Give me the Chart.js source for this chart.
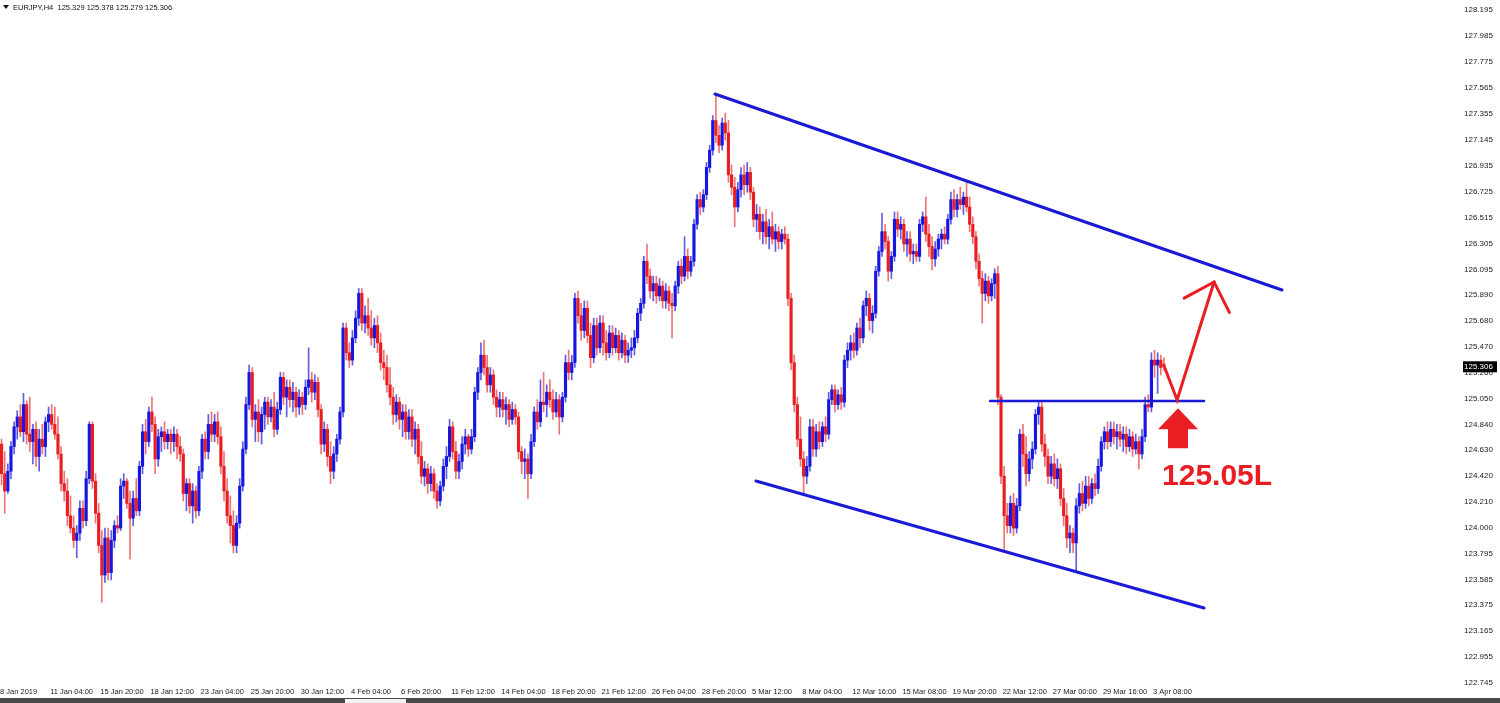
<!DOCTYPE html>
<html lang="en">
<head>
<meta charset="UTF-8">
<title>EURJPY,H4</title>
<script src="https://cdn.jsdelivr.net/npm/chart.js@4"></script>
<style>
  html, body { margin: 0; padding: 0; background: #fff; }
  #grafico { display: block; }
</style>
</head>
<body>
<canvas id="grafico" width="1500" height="703"></canvas>
<script>
// candles EURJPY H4 (bar 0 = 8 Jan 12:00)
const opens = [
  124.68,124.44,124.30,124.46,124.66,124.82,124.90,124.78,125.00,124.76,
  124.70,124.80,124.58,124.72,124.66,124.86,124.92,124.84,124.76,124.60,
  124.36,124.30,124.10,124.00,123.90,123.96,124.16,124.06,124.40,124.84,
  124.38,124.12,123.86,123.62,123.92,123.64,123.90,124.02,124.00,124.34,
  124.38,124.20,124.08,124.24,124.14,124.50,124.78,124.70,124.94,124.84,
  124.56,124.74,124.78,124.70,124.76,124.70,124.76,124.66,124.60,124.28,
  124.36,124.18,124.30,124.14,124.46,124.72,124.62,124.84,124.76,124.86,
  124.74,124.50,124.30,124.10,124.02,123.86,124.04,124.34,124.64,125.00,
  125.26,124.88,124.94,124.78,124.92,125.02,124.90,124.98,124.80,124.96,
  125.22,125.06,125.14,125.04,125.10,124.98,125.06,125.00,125.14,125.20,
  125.10,125.18,124.96,124.68,124.80,124.58,124.46,124.60,124.72,124.94,
  125.62,125.42,125.36,125.54,125.70,125.90,125.66,125.72,125.62,125.54,
  125.64,125.50,125.34,125.30,125.16,125.06,124.92,125.02,124.88,124.94,
  124.78,124.90,124.72,124.80,124.58,124.42,124.48,124.36,124.44,124.30,
  124.22,124.34,124.50,124.58,124.82,124.62,124.46,124.54,124.68,124.74,
  124.64,124.74,125.10,125.26,125.40,125.30,125.16,125.24,125.06,124.98,
  125.04,124.96,125.00,124.88,124.96,124.90,124.62,124.54,124.56,124.44,
  124.70,124.94,124.86,125.02,125.00,125.10,125.04,124.94,125.04,124.90,
  125.06,125.34,125.26,125.34,125.86,125.72,125.60,125.78,125.56,125.38,
  125.64,125.46,125.66,125.50,125.42,125.58,125.46,125.56,125.42,125.52,
  125.40,125.44,125.46,125.54,125.74,125.82,126.16,126.04,125.92,125.98,
  125.88,125.96,125.84,125.92,125.82,125.80,125.96,126.12,126.04,126.20,
  126.08,126.16,126.46,126.66,126.60,126.70,126.92,127.06,127.30,127.18,
  127.10,127.28,127.20,126.86,126.76,126.60,126.74,126.86,126.78,126.88,
  126.72,126.50,126.54,126.40,126.48,126.36,126.44,126.34,126.40,126.32,
  126.38,126.34,125.86,125.34,125.00,124.72,124.56,124.42,124.50,124.82,
  124.64,124.78,124.70,124.82,124.76,125.04,125.12,125.00,125.08,125.02,
  125.36,125.44,125.50,125.44,125.62,125.54,125.80,125.86,125.68,125.74,
  126.08,126.24,126.40,126.32,126.08,126.20,126.50,126.42,126.46,126.30,
  126.34,126.22,126.24,126.20,126.46,126.52,126.38,126.28,126.18,126.26,
  126.34,126.38,126.34,126.50,126.66,126.58,126.66,126.62,126.68,126.60,
  126.46,126.36,126.16,126.02,125.90,126.00,125.88,125.98,126.06,125.06,
  124.42,124.10,124.02,124.20,124.00,124.18,124.76,124.60,124.44,124.56,
  124.64,124.92,124.98,124.68,124.58,124.42,124.52,124.40,124.48,124.24,
  124.10,123.92,123.96,123.88,124.18,124.28,124.20,124.34,124.24,124.36,
  124.32,124.50,124.70,124.78,124.70,124.80,124.74,124.78,124.72,124.76,
  124.66,124.74,124.64,124.70,124.60,124.74,125.00,124.98,125.36,125.32,125.36,125.329
];
const highs = [
  124.72,124.62,124.52,124.70,124.86,124.95,125.00,125.09,125.03,125.06,
  124.84,124.86,124.80,124.84,124.90,124.98,125.00,124.98,124.90,124.66,
  124.46,124.40,124.26,124.10,124.02,124.22,124.22,124.46,124.86,124.86,
  124.44,124.20,123.98,124.00,124.00,123.98,124.06,124.10,124.40,124.44,
  124.40,124.30,124.30,124.40,124.54,124.84,124.88,124.98,125.06,124.90,
  124.80,124.82,124.86,124.80,124.80,124.82,124.80,124.74,124.64,124.40,
  124.40,124.36,124.34,124.50,124.76,124.78,124.92,124.94,124.92,124.94,
  124.82,124.62,124.40,124.26,124.14,124.10,124.40,124.70,125.06,125.32,
  125.30,125.00,125.04,124.98,125.06,125.06,125.04,125.10,125.02,125.26,
  125.26,125.20,125.20,125.18,125.14,125.12,125.10,125.20,125.46,125.26,
  125.24,125.22,125.00,124.86,124.84,124.70,124.66,124.76,124.98,125.66,
  125.66,125.50,125.60,125.76,125.94,125.94,125.80,125.86,125.76,125.70,
  125.72,125.58,125.44,125.40,125.30,125.14,125.08,125.06,125.00,125.00,
  124.96,124.96,124.86,124.84,124.70,124.54,124.52,124.50,124.48,124.36,
  124.38,124.56,124.66,124.88,124.86,124.70,124.60,124.74,124.80,124.76,
  124.80,125.14,125.30,125.50,125.52,125.40,125.30,125.28,125.12,125.10,
  125.10,125.06,125.04,125.02,125.00,124.94,124.66,124.64,124.60,124.76,
  124.98,125.04,125.20,125.26,125.16,125.20,125.12,125.10,125.08,125.10,
  125.40,125.44,125.40,125.90,125.92,125.82,125.84,125.84,125.66,125.70,
  125.70,125.72,125.72,125.60,125.64,125.64,125.62,125.60,125.58,125.56,
  125.50,125.54,125.60,125.78,125.86,126.20,126.30,126.10,126.04,126.04,
  126.02,126.00,125.98,125.96,125.90,126.00,126.16,126.18,126.36,126.26,
  126.20,126.50,126.70,126.72,126.74,126.96,127.10,127.34,127.52,127.26,
  127.32,127.36,127.30,126.94,126.84,126.80,126.92,126.94,126.96,126.92,
  126.76,126.62,126.60,126.54,126.58,126.50,126.56,126.46,126.44,126.42,
  126.44,126.38,125.90,125.40,125.06,124.90,124.62,124.58,124.88,124.88,
  124.84,124.86,124.86,124.90,125.10,125.16,125.16,125.12,125.14,125.40,
  125.50,125.56,125.58,125.66,125.70,125.84,125.92,125.90,125.80,126.12,
  126.28,126.55,126.46,126.36,126.24,126.56,126.56,126.52,126.50,126.40,
  126.40,126.30,126.30,126.50,126.56,126.68,126.46,126.36,126.32,126.38,
  126.42,126.44,126.54,126.72,126.74,126.70,126.76,126.72,126.80,126.68,
  126.52,126.40,126.22,126.08,126.06,126.04,126.02,126.10,126.12,125.08,
  124.50,124.20,124.26,124.28,124.24,124.80,124.84,124.74,124.62,124.70,
  124.96,125.02,125.02,124.76,124.64,124.58,124.60,124.56,124.52,124.32,
  124.20,124.02,124.00,124.24,124.36,124.38,124.42,124.42,124.40,124.44,
  124.56,124.74,124.82,124.86,124.86,124.86,124.84,124.84,124.82,124.82,
  124.80,124.78,124.76,124.74,124.80,125.06,125.08,125.42,125.44,125.42,125.40,125.378
];
const lows = [
  124.35,124.12,124.28,124.40,124.60,124.72,124.74,124.70,124.68,124.62,
  124.52,124.50,124.46,124.60,124.58,124.78,124.80,124.72,124.56,124.30,
  124.22,124.02,123.96,123.84,123.76,123.90,124.00,124.02,124.36,124.32,
  124.04,123.80,123.40,123.56,123.58,123.58,123.84,123.96,123.98,124.24,
  124.16,123.75,124.02,124.10,124.10,124.44,124.60,124.66,124.78,124.44,
  124.50,124.62,124.64,124.64,124.60,124.62,124.56,124.54,124.22,124.14,
  124.12,124.04,124.08,124.10,124.40,124.56,124.56,124.70,124.70,124.68,
  124.44,124.22,124.04,123.88,123.80,123.80,124.00,124.30,124.60,124.96,
  124.82,124.70,124.70,124.68,124.80,124.84,124.86,124.74,124.76,124.92,
  125.00,124.90,124.98,124.94,124.90,124.92,124.92,124.96,125.08,125.02,
  125.04,124.90,124.60,124.62,124.50,124.36,124.40,124.54,124.68,124.90,
  125.36,125.30,125.32,125.50,125.64,125.60,125.58,125.56,125.48,125.46,
  125.42,125.28,125.20,125.10,125.00,124.84,124.86,124.80,124.74,124.72,
  124.72,124.66,124.60,124.52,124.36,124.34,124.28,124.30,124.24,124.16,
  124.18,124.30,124.40,124.54,124.56,124.40,124.40,124.48,124.60,124.58,
  124.60,124.70,125.04,125.20,125.24,125.10,125.10,125.00,124.90,124.90,
  124.90,124.84,124.82,124.84,124.84,124.56,124.44,124.40,124.24,124.40,
  124.66,124.80,124.82,124.94,124.90,124.98,124.88,124.90,124.76,124.86,
  125.02,125.20,125.20,125.30,125.66,125.52,125.54,125.50,125.30,125.34,
  125.40,125.42,125.40,125.36,125.38,125.40,125.42,125.36,125.38,125.34,
  125.34,125.38,125.40,125.50,125.68,125.78,125.98,125.86,125.84,125.82,
  125.84,125.78,125.78,125.76,125.54,125.76,125.90,125.98,126.00,126.02,
  126.04,126.12,126.42,126.54,126.56,126.66,126.88,127.02,127.12,127.04,
  127.06,127.14,126.80,126.70,126.44,126.56,126.68,126.70,126.72,126.66,
  126.44,126.40,126.34,126.30,126.30,126.26,126.30,126.24,126.26,126.26,
  126.30,125.80,125.28,124.94,124.66,124.50,124.27,124.36,124.46,124.58,
  124.58,124.64,124.66,124.70,124.72,125.00,124.94,124.96,124.96,124.98,
  125.30,125.36,125.38,125.40,125.46,125.50,125.72,125.60,125.58,125.70,
  126.04,126.20,126.26,126.00,126.02,126.16,126.36,126.34,126.24,126.20,
  126.16,126.14,126.16,126.16,126.40,126.32,126.20,126.09,126.12,126.20,
  126.26,126.30,126.30,126.46,126.52,126.52,126.58,126.54,126.56,126.40,
  126.30,126.10,125.96,125.66,125.84,125.82,125.84,125.86,125.00,124.36,
  123.81,123.96,123.96,123.94,123.96,124.14,124.50,124.34,124.38,124.48,
  124.60,124.84,124.62,124.50,124.36,124.36,124.34,124.32,124.18,124.02,
  123.84,123.80,123.80,123.65,124.12,124.14,124.16,124.18,124.20,124.26,
  124.28,124.46,124.64,124.64,124.66,124.68,124.64,124.66,124.62,124.60,
  124.62,124.58,124.60,124.48,124.56,124.70,124.94,124.94,125.22,125.09,125.24,125.279
];
const closes = [
  124.44,124.30,124.46,124.66,124.82,124.90,124.78,125.00,124.76,124.70,
  124.80,124.58,124.72,124.66,124.86,124.92,124.84,124.76,124.60,124.36,
  124.30,124.10,124.00,123.90,123.96,124.16,124.06,124.40,124.84,124.38,
  124.12,123.86,123.62,123.92,123.64,123.90,124.02,124.00,124.34,124.38,
  124.20,124.08,124.24,124.14,124.50,124.78,124.70,124.94,124.84,124.56,
  124.74,124.78,124.70,124.76,124.70,124.76,124.66,124.60,124.28,124.36,
  124.18,124.30,124.14,124.46,124.72,124.62,124.84,124.76,124.86,124.74,
  124.50,124.30,124.10,124.02,123.86,124.04,124.34,124.64,125.00,125.26,
  124.88,124.94,124.78,124.92,125.02,124.90,124.98,124.80,124.96,125.22,
  125.06,125.14,125.04,125.10,124.98,125.06,125.00,125.14,125.20,125.10,
  125.18,124.96,124.68,124.80,124.58,124.46,124.60,124.72,124.94,125.62,
  125.42,125.36,125.54,125.70,125.90,125.66,125.72,125.62,125.54,125.64,
  125.50,125.34,125.30,125.16,125.06,124.92,125.02,124.88,124.94,124.78,
  124.90,124.72,124.80,124.58,124.42,124.48,124.36,124.44,124.30,124.22,
  124.34,124.50,124.58,124.82,124.62,124.46,124.54,124.68,124.74,124.64,
  124.74,125.10,125.26,125.40,125.30,125.16,125.24,125.06,124.98,125.04,
  124.96,125.00,124.88,124.96,124.90,124.62,124.54,124.56,124.44,124.70,
  124.94,124.86,125.02,125.00,125.10,125.04,124.94,125.04,124.90,125.06,
  125.34,125.26,125.34,125.86,125.72,125.60,125.78,125.56,125.38,125.64,
  125.46,125.66,125.50,125.42,125.58,125.46,125.56,125.42,125.52,125.40,
  125.44,125.46,125.54,125.74,125.82,126.16,126.04,125.92,125.98,125.88,
  125.96,125.84,125.92,125.82,125.80,125.96,126.12,126.04,126.20,126.08,
  126.16,126.46,126.66,126.60,126.70,126.92,127.06,127.30,127.18,127.10,
  127.28,127.20,126.86,126.76,126.60,126.74,126.86,126.78,126.88,126.72,
  126.50,126.54,126.40,126.48,126.36,126.44,126.34,126.40,126.32,126.38,
  126.34,125.86,125.34,125.00,124.72,124.56,124.42,124.50,124.82,124.64,
  124.78,124.70,124.82,124.76,125.04,125.12,125.00,125.08,125.02,125.36,
  125.44,125.50,125.44,125.62,125.54,125.80,125.86,125.68,125.74,126.08,
  126.24,126.40,126.32,126.08,126.20,126.50,126.42,126.46,126.30,126.34,
  126.22,126.24,126.20,126.46,126.52,126.38,126.28,126.18,126.26,126.34,
  126.38,126.34,126.50,126.66,126.58,126.66,126.62,126.68,126.60,126.46,
  126.36,126.16,126.02,125.90,126.00,125.88,125.98,126.06,125.06,124.42,
  124.10,124.02,124.20,124.00,124.18,124.76,124.60,124.44,124.56,124.64,
  124.92,124.98,124.68,124.58,124.42,124.52,124.40,124.48,124.24,124.10,
  123.92,123.96,123.88,124.18,124.28,124.20,124.34,124.24,124.36,124.32,
  124.50,124.70,124.78,124.70,124.80,124.74,124.78,124.72,124.76,124.66,
  124.74,124.64,124.70,124.60,124.74,125.00,124.98,125.36,125.32,125.36,125.30,125.306
];

// eixo de tempo: um rótulo a cada 16 barras
const dateLabels = [
  '8 Jan 2019', '11 Jan 04:00', '15 Jan 20:00', '18 Jan 12:00', '23 Jan 04:00', '25 Jan 20:00',
  '30 Jan 12:00', '4 Feb 04:00', '6 Feb 20:00', '11 Feb 12:00', '14 Feb 04:00', '18 Feb 20:00',
  '21 Feb 12:00', '26 Feb 04:00', '28 Feb 20:00', '5 Mar 12:00', '8 Mar 04:00', '12 Mar 16:00',
  '15 Mar 08:00', '19 Mar 20:00', '22 Mar 12:00', '27 Mar 00:00', '29 Mar 16:00', '3 Apr 08:00'
];
const barsPerLabel = 16;
const totalSlots = 466; // bars that fit in the window (empty space to the right)

const priceTicks = [
  128.195, 127.985, 127.775, 127.565, 127.355, 127.145, 126.935, 126.725, 126.515,
  126.305, 126.095, 125.890, 125.680, 125.470, 125.260, 125.050, 124.840, 124.630,
  124.420, 124.210, 124.000, 123.795, 123.585, 123.375, 123.165, 122.955, 122.745
];
const priceMin = 122.7375;
const priceMax = 128.276;

const headerText = 'EURJPY,H4  125.329 125.378 125.279 125.306';

// objetos desenhados no gráfico: [barra, preço]
const upperChannel = [[227.7, 127.515], [408.7, 125.928]];
const lowerChannel = [[240.8, 124.381], [383.8, 123.353]];
const supportLine = [[315.5, 125.03], [383.8, 125.03]];
const arrowPath = [[371.3, 125.296], [375.2, 125.037], [387.0, 125.993]];
const blockArrowTip = [375.5, 124.97];
const levelText = '125.05L';
const levelTextAnchor = [370.4, 124.414];

const azul = '#1616e0';
const vermelho = '#e81e22';

const slotLabels = Array.from({ length: totalSlots }, (_, i) =>
  i % barsPerLabel === 0 ? (dateLabels[i / barsPerLabel] || '') : '');

const corpos = opens.map((o, i) => [o, closes[i]]);
const pavios = lows.map((l, i) => [l, highs[i]]);
const alta = opens.map((o, i) => closes[i] >= o);

const desenhos = {
  id: 'desenhos',
  afterDraw(chart) {
    const { ctx, chartArea } = chart;
    const x = chart.scales.x, y = chart.scales.y;
    const px = p => [x.getPixelForValue(p[0]), y.getPixelForValue(p[1])];

    ctx.save();
    // cabeçalho
    ctx.fillStyle = '#111';
    ctx.beginPath();
    ctx.moveTo(3, 5); ctx.lineTo(9, 5); ctx.lineTo(6, 9); ctx.closePath();
    ctx.fill();
    ctx.font = '7.5px "Liberation Sans"';
    ctx.textBaseline = 'middle';
    ctx.textAlign = 'left';
    ctx.fillText(headerText, 13, 8);

    // linhas do canal
    ctx.save();
    ctx.beginPath();
    ctx.rect(chartArea.left, chartArea.top, chartArea.width, chartArea.height);
    ctx.clip();
    ctx.lineCap = 'round';
    ctx.strokeStyle = '#1a1ad6';
    [upperChannel, lowerChannel].forEach(l => {
      const a = px(l[0]), b = px(l[1]);
      ctx.lineWidth = 3;
      ctx.beginPath(); ctx.moveTo(a[0], a[1]); ctx.lineTo(b[0], b[1]); ctx.stroke();
    });
    const s0 = px(supportLine[0]), s1 = px(supportLine[1]);
    ctx.lineWidth = 2.5;
    ctx.beginPath(); ctx.moveTo(s0[0], s0[1]); ctx.lineTo(s1[0], s1[1]); ctx.stroke();

    // seta vermelha
    ctx.strokeStyle = vermelho;
    ctx.lineWidth = 3;
    ctx.lineJoin = 'miter';
    const pts = arrowPath.map(px);
    ctx.beginPath();
    ctx.moveTo(pts[0][0], pts[0][1]);
    pts.slice(1).forEach(p => ctx.lineTo(p[0], p[1]));
    ctx.stroke();
    const tip = pts[pts.length - 1], prev = pts[pts.length - 2];
    const ang = Math.atan2(prev[1] - tip[1], prev[0] - tip[0]);
    const abertura = 0.77, comp = 34;
    ctx.beginPath();
    ctx.moveTo(tip[0] + comp * Math.cos(ang + abertura), tip[1] + comp * Math.sin(ang + abertura));
    ctx.lineTo(tip[0], tip[1]);
    ctx.lineTo(tip[0] + comp * Math.cos(ang - abertura), tip[1] + comp * Math.sin(ang - abertura));
    ctx.stroke();

    // seta grossa para cima
    const t = px(blockArrowTip);
    ctx.fillStyle = vermelho;
    ctx.beginPath();
    ctx.moveTo(t[0], t[1]);
    ctx.lineTo(t[0] + 20, t[1] + 21);
    ctx.lineTo(t[0] + 10, t[1] + 21);
    ctx.lineTo(t[0] + 10, t[1] + 40);
    ctx.lineTo(t[0] - 10, t[1] + 40);
    ctx.lineTo(t[0] - 10, t[1] + 21);
    ctx.lineTo(t[0] - 20, t[1] + 21);
    ctx.closePath();
    ctx.fill();

    const ta = px(levelTextAnchor);
    ctx.font = 'bold 30px "Liberation Sans"';
    ctx.textBaseline = 'middle';
    ctx.fillText(levelText, ta[0], ta[1]);
    ctx.restore();

    // etiqueta do preço atual
    const ultimo = closes[closes.length - 1];
    const yp = y.getPixelForValue(ultimo);
    ctx.fillStyle = '#000';
    ctx.fillRect(chartArea.right + 3, yp - 5.5, 34, 11);
    ctx.fillStyle = '#fff';
    ctx.font = '8px "Liberation Sans"';
    ctx.textBaseline = 'middle';
    ctx.textAlign = 'left';
    ctx.fillText(ultimo.toFixed(3), chartArea.right + 4, yp);

    // barra inferior da janela
    ctx.fillStyle = '#4a4a4a';
    ctx.fillRect(0, 698, chart.width, 5);
    ctx.fillStyle = '#f2f2f2';
    ctx.fillRect(345, 699, 61, 4);
    ctx.restore();
  }
};

new Chart(document.getElementById('grafico'), {
  type: 'bar',
  data: {
    labels: slotLabels,
    datasets: [
      {
        label: 'corpo',
        data: corpos,
        backgroundColor: alta.map(a => a ? azul : vermelho),
        barThickness: 2.5,
        grouped: false,
        order: 0
      },
      {
        label: 'pavio',
        data: pavios,
        backgroundColor: alta.map(a => a ? 'rgba(40,40,220,0.75)' : 'rgba(232,40,40,0.65)'),
        barThickness: 1,
        grouped: false,
        order: 1
      }
    ]
  },
  options: {
    responsive: false,
    animation: false,
    devicePixelRatio: 1,
    events: [],
    layout: { padding: { top: 0, left: 0, right: 0, bottom: 5 } },
    plugins: {
      legend: { display: false },
      tooltip: { enabled: false }
    },
    scales: {
      x: {
        type: 'category',
        offset: true,
        grid: { display: false, drawTicks: false },
        border: { display: false },
        ticks: {
          autoSkip: false,
          maxRotation: 0,
          minRotation: 0,
          align: 'start',
          labelOffset: -1.5,
          padding: 3,
          color: '#1a1a1a',
          font: { family: 'Liberation Sans', size: 7.5 }
        },
        afterFit: s => { s.height = 14; s.paddingLeft = 0; s.paddingRight = 0; }
      },
      y: {
        position: 'right',
        min: priceMin,
        max: priceMax,
        bounds: 'data',
        grid: { display: false, drawTicks: false },
        border: { display: false },
        afterBuildTicks: s => { s.ticks = priceTicks.map(v => ({ value: v })); },
        ticks: {
          callback: v => v.toFixed(3),
          padding: 4,
          color: '#1a1a1a',
          font: { family: 'Liberation Sans', size: 8 }
        },
        afterFit: s => { s.width = 40; s.paddingTop = 0; s.paddingBottom = 0; }
      }
    }
  },
  plugins: [desenhos]
});
</script>
</body>
</html>
